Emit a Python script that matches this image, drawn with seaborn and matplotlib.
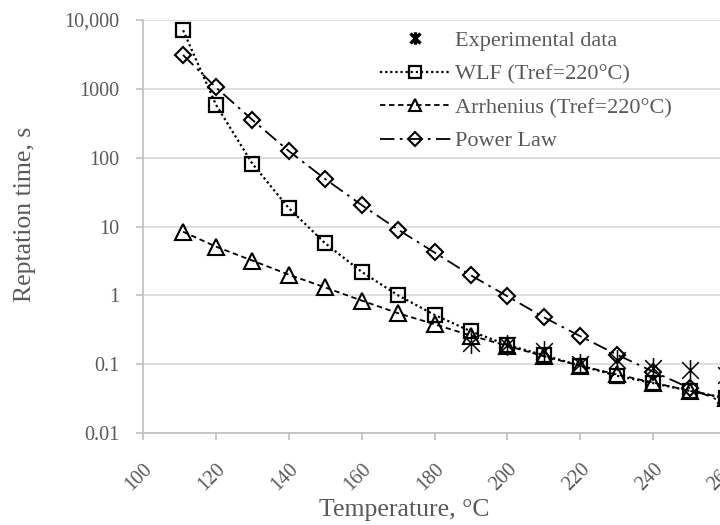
import numpy as np
import pandas as pd
import matplotlib
matplotlib.use("Agg")
import matplotlib.pyplot as plt
from matplotlib.path import Path
import seaborn as sns

# ---- data ----
temps_model = [111, 120, 130, 140, 150, 160, 170, 180, 190, 200, 210, 220, 230, 240, 250, 260]
wlf = [7100, 590, 82, 18.5, 5.7, 2.2, 1.0, 0.52, 0.30, 0.19, 0.135, 0.095, 0.068, 0.053, 0.041, 0.032]
arrhenius = [8.4, 5.1, 3.2, 2.0, 1.3, 0.84, 0.55, 0.38, 0.26, 0.185, 0.13, 0.095, 0.071, 0.054, 0.041, 0.032]
power_law = [3100, 1050, 355, 125, 49, 20.5, 9.0, 4.2, 1.95, 0.97, 0.48, 0.255, 0.138, 0.078, 0.045, 0.027]
temps_exp = [190, 200, 210, 220, 230, 240, 250, 260]
experimental = [0.20, 0.19, 0.155, 0.10, 0.115, 0.088, 0.083, 0.07]

series_labels = ["Experimental data", "WLF (Tref=220°C)", "Arrhenius (Tref=220°C)", "Power Law"]
x_ticks = [100, 120, 140, 160, 180, 200, 220, 240, 260]
y_ticks = [0.01, 0.1, 1, 10, 100, 1000, 10000]
y_tick_labels = ["0.01", "0.1", "1", "10", "100", "1000", "10,000"]

sns.set_theme(style="white")
plt.rcParams["font.family"] = ["Liberation Serif", "DejaVu Serif"]
txt = "#595959"

fig = plt.figure(figsize=(7.2, 5.25), dpi=100)
ax = fig.add_axes([143 / 720, 1 - 433 / 525, (726 - 143) / 720, (433 - 20) / 525])

star = Path([(-1, -1), (1, 1), (-1, 1), (1, -1), (0, -1.25), (0, 1.25)],
            [Path.MOVETO, Path.LINETO, Path.MOVETO, Path.LINETO, Path.MOVETO, Path.LINETO])

df_m = pd.DataFrame({"T": temps_model, "wlf": wlf, "arr": arrhenius, "pl": power_law})
df_e = pd.DataFrame({"T": temps_exp, "exp": experimental})

sns.lineplot(data=df_m, x="T", y="wlf", ax=ax, color="black", lw=1.6, linestyle=(0, (1, 1.3)),
             marker="s", markersize=10.5, mfc="none", mec="black", mew=1.6,
             label=series_labels[1], clip_on=False)
sns.lineplot(data=df_m, x="T", y="arr", ax=ax, color="black", lw=1.3, linestyle=(0, (3, 2)),
             marker="^", markersize=11, mfc="none", mec="black", mew=1.5,
             label=series_labels[2], clip_on=False)
sns.lineplot(data=df_m, x="T", y="pl", ax=ax, color="black", lw=1.3, linestyle=(0, (8, 3, 1.5, 3)),
             marker="D", markersize=8, mfc="none", mec="black", mew=1.5,
             label=series_labels[3], clip_on=False)
sns.lineplot(data=df_e, x="T", y="exp", ax=ax, color="black", lw=0, linestyle="none",
             marker=star, markersize=15, mew=1.1, mec="black",
             label=series_labels[0], clip_on=False)

ax.set_yscale("log")
ax.set_xlim(100, 260)
ax.set_ylim(0.01, 10000)
ax.set_xticks(x_ticks)
ax.set_xticklabels([str(t) for t in x_ticks], rotation=45, ha="right", rotation_mode="anchor")
ax.set_yticks(y_ticks)
ax.set_yticklabels(y_tick_labels)
ax.yaxis.set_minor_locator(matplotlib.ticker.NullLocator())
ax.grid(axis="y", color="#d9d9d9", lw=1.2)
ax.grid(axis="x", visible=False)
for s in ["top", "right"]:
    ax.spines[s].set_visible(False)
for s in ["left", "bottom"]:
    ax.spines[s].set_color("#bfbfbf")
    ax.spines[s].set_linewidth(1.2)
ax.tick_params(axis="both", which="major", length=5, width=1.2, color="#bfbfbf",
               labelsize=14.5, labelcolor=txt, direction="out", bottom=True, left=True)
ax.tick_params(axis="x", pad=14)
ax.tick_params(axis="y", pad=12)
ax.set_xlabel("Temperature, °C", fontsize=18.5, color=txt)
ax.xaxis.set_label_coords((404 - 143) / 583, -(510 - 433) / 413, transform=ax.transAxes)
ax.xaxis.label.set_va("center")
ax.set_ylabel("Reptation time, s", fontsize=18.5, color=txt)
ax.yaxis.set_label_coords(-(143 - 25) / 583, (433 - 214) / 413, transform=ax.transAxes)
ax.yaxis.label.set_va("center")

handles, labels = ax.get_legend_handles_labels()
order = [labels.index(l) for l in series_labels]
leg = ax.legend([handles[i] for i in order], [labels[i] for i in order],
                loc="upper left", bbox_to_anchor=((364 - 143) / 583, 1.012),
                frameon=False, fontsize=16, handlelength=3.2, handletextpad=0.2,
                labelspacing=0.58, borderaxespad=0.3)
for t in leg.get_texts():
    t.set_color(txt)
lh = leg.legend_handles
lh[0].set_markersize(9)
lh[0].set_markeredgewidth(2.4)
lh[1].set_markersize(9)
lh[2].set_markersize(9)
lh[3].set_markersize(7)

fig.savefig("out.png", dpi=100)
